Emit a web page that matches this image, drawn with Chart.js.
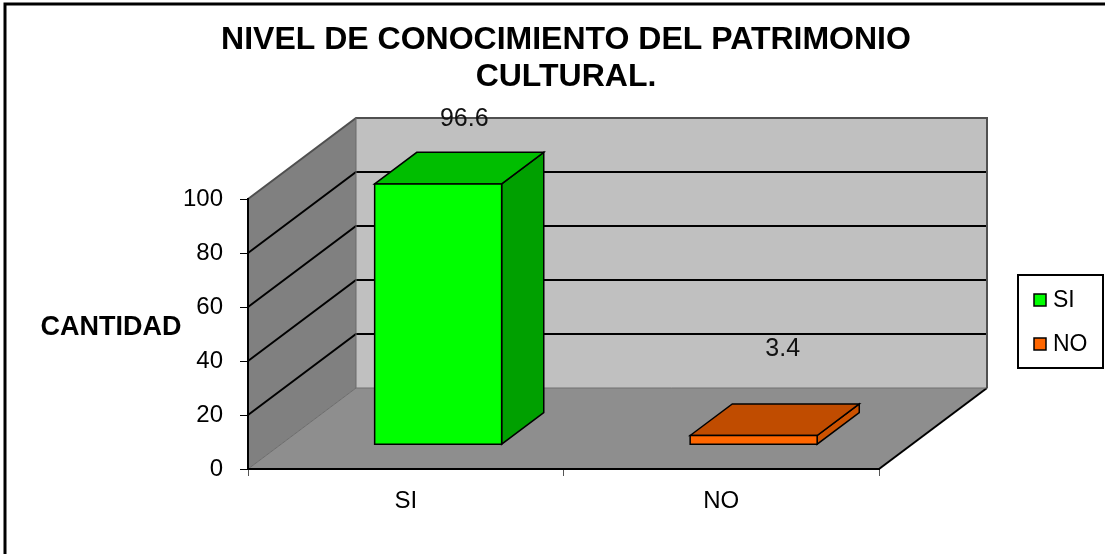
<!DOCTYPE html>
<html><head><meta charset="utf-8">
<script src="https://cdn.jsdelivr.net/npm/chart.js@4/dist/chart.umd.min.js"></script>
<style>html,body{margin:0;padding:0;background:#fff;overflow:hidden}canvas{display:block}</style>
</head><body>
<canvas id="c" width="1105" height="554"></canvas>
<script>
// ---- data ----
const titleLines = ["NIVEL DE CONOCIMIENTO DEL PATRIMONIO", "CULTURAL."];
const yAxisTitle = "CANTIDAD";
const categories = ["SI", "NO"];
const seriesNames = ["SI", "NO"];
const siValues = [96.6, null];
const noValues = [null, 3.4];
const yMin = 0, yMax = 100, yStep = 20;

// ---- style ----
const FONT = "'Liberation Sans', Arial, sans-serif";
const DEPTH = { dx: 108, dy: -81, f0: 0.30, f1: 0.69 };
const LABEL_SHIFT = [[5, -49], [8, -71]];

function poly(ctx, pts, fill, stroke, lw) {
  ctx.beginPath();
  ctx.moveTo(pts[0][0], pts[0][1]);
  for (let i = 1; i < pts.length; i++) ctx.lineTo(pts[i][0], pts[i][1]);
  ctx.closePath();
  if (fill) { ctx.fillStyle = fill; ctx.fill(); }
  if (stroke) { ctx.strokeStyle = stroke; ctx.lineWidth = lw || 1; ctx.lineJoin = 'miter'; ctx.stroke(); }
}
function line(ctx, pts, color, lw) {
  ctx.beginPath();
  ctx.moveTo(pts[0][0], pts[0][1]);
  for (let i = 1; i < pts.length; i++) ctx.lineTo(pts[i][0], pts[i][1]);
  ctx.strokeStyle = color; ctx.lineWidth = lw; ctx.stroke();
}

const scene3d = {
  id: 'scene3d',
  beforeDraw(chart) {
    const ctx = chart.ctx;
    const { left, right } = chart.chartArea;
    const ys = chart.scales.y;
    const { dx, dy } = DEPTH;
    const y0 = ys.getPixelForValue(yMin), yT = ys.getPixelForValue(yMax);
    ctx.save();
    ctx.fillStyle = '#fff';
    ctx.fillRect(0, 0, chart.width, chart.height);
    // outer frame
    ctx.strokeStyle = '#000'; ctx.lineWidth = 3;
    ctx.strokeRect(5, 4, chart.width + 10, chart.height + 10);
    // left wall
    poly(ctx, [[left, y0], [left, yT], [left + dx, yT + dy], [left + dx, y0 + dy]], '#808080');
    // back wall
    poly(ctx, [[left + dx, yT + dy], [right + dx, yT + dy], [right + dx, y0 + dy], [left + dx, y0 + dy]], '#C0C0C0');
    // floor
    poly(ctx, [[left, y0], [right, y0], [right + dx, y0 + dy], [left + dx, y0 + dy]], '#8E8E8E');
    // grid lines on walls
    ys.ticks.forEach(t => {
      if (t.value <= yMin || t.value >= yMax) return;
      const y = ys.getPixelForValue(t.value);
      line(ctx, [[left, y], [left + dx, y + dy], [right + dx, y + dy]], '#000', 2);
    });
    // edges
    line(ctx, [[left, yT], [left + dx, yT + dy], [right + dx, yT + dy], [right + dx, y0 + dy]], '#505050', 2);
    line(ctx, [[left, y0], [left + dx, y0 + dy], [left + dx, yT + dy]], '#6a6a6a', 1);
    line(ctx, [[right, y0], [right + dx, y0 + dy]], '#000', 2);
    line(ctx, [[left + dx, y0 + dy], [right + dx, y0 + dy]], '#707070', 1);
    ctx.restore();
  },
  beforeDatasetDraw() { return false; },
  afterDatasetsDraw(chart) {
    const ctx = chart.ctx;
    const { dx, dy, f0, f1 } = DEPTH;
    const ox = dx * f0, oy = dy * f0, ddx = dx * (f1 - f0), ddy = dy * (f1 - f0);
    ctx.save();
    chart.data.datasets.forEach((ds, i) => {
      const meta = chart.getDatasetMeta(i);
      meta.data.forEach((el, j) => {
        const v = ds.data[j];
        if (v === null || v === undefined) return;
        const p = el.getProps(['x', 'y', 'base', 'width'], true);
        const L = p.x - p.width / 2 + ox, R = p.x + p.width / 2 + ox;
        const T = p.y + oy, B = p.base + oy;
        poly(ctx, [[R, T], [R + ddx, T + ddy], [R + ddx, B + ddy], [R, B]], ds.sideColor, '#000', 1.5);
        poly(ctx, [[L, T], [L + ddx, T + ddy], [R + ddx, T + ddy], [R, T]], ds.topColor, '#000', 1.5);
        poly(ctx, [[L, T], [R, T], [R, B], [L, B]], ds.backgroundColor, '#000', 1.5);
        // value label
        const cx = (L + R + ddx) / 2, cy = T + ddy / 2;
        const sh = LABEL_SHIFT[j] || [0, -40];
        ctx.fillStyle = '#111';
        ctx.font = '25px ' + FONT;
        ctx.textAlign = 'center'; ctx.textBaseline = 'middle';
        ctx.fillText(String(v), cx + sh[0], cy + sh[1]);
      });
    });
    ctx.restore();
  },
  afterDraw(chart) {
    const ctx = chart.ctx;
    ctx.save();
    // title
    ctx.fillStyle = '#000';
    ctx.font = 'bold 32px ' + FONT;
    ctx.textAlign = 'center'; ctx.textBaseline = 'middle';
    titleLines.forEach((t, i) => ctx.fillText(t, 566, 40 + i * 37.5));
    // y axis title (horizontal)
    ctx.font = 'bold 27px ' + FONT;
    ctx.fillText(yAxisTitle, 111, 328);
    // legend
    const bx = 1018, by = 275, bw = 85, bh = 93;
    ctx.strokeStyle = '#000'; ctx.lineWidth = 2;
    ctx.strokeRect(bx, by, bw, bh);
    ctx.font = '23px ' + FONT;
    ctx.textAlign = 'left';
    chart.data.datasets.forEach((ds, i) => {
      const cy = 300 + i * 44;
      ctx.fillStyle = ds.backgroundColor;
      ctx.fillRect(1034, cy - 6, 12, 12);
      ctx.strokeStyle = '#000'; ctx.lineWidth = 1.5;
      ctx.strokeRect(1034, cy - 6, 12, 12);
      ctx.fillStyle = '#000';
      ctx.fillText(ds.label, 1053, cy + 1);
    });
    ctx.restore();
  }
};

new Chart(document.getElementById('c'), {
  type: 'bar',
  data: {
    labels: categories,
    datasets: [
      { label: seriesNames[0], data: siValues, backgroundColor: '#00FF00', topColor: '#00BE00', sideColor: '#00A000', grouped: false },
      { label: seriesNames[1], data: noValues, backgroundColor: '#FF6600', topColor: '#C04C00', sideColor: '#CC5200', grouped: false }
    ]
  },
  options: {
    responsive: false,
    animation: false,
    devicePixelRatio: 1,
    categoryPercentage: 1,
    barPercentage: 0.4025,
    layout: { padding: { top: 199, right: 226, bottom: 0, left: 0 } },
    plugins: { legend: { display: false }, title: { display: false }, tooltip: { enabled: false } },
    scales: {
      x: {
        ticks: { padding: 11, color: '#000', font: { size: 24, family: FONT } },
        grid: { drawOnChartArea: false, drawTicks: true, tickLength: 7, tickColor: '#555', offset: true },
        border: { display: true, color: '#000', width: 2 },
        afterFit(s) { s.height = 85; }
      },
      y: {
        min: yMin, max: yMax,
        ticks: { stepSize: yStep, padding: 17, color: '#000', font: { size: 24, family: FONT } },
        grid: { drawOnChartArea: false, drawTicks: true, tickLength: 8, tickColor: '#000' },
        border: { display: true, color: '#000', width: 2 },
        afterFit(s) { s.width = 248; }
      }
    }
  },
  plugins: [scene3d]
});
</script>
</body></html>
